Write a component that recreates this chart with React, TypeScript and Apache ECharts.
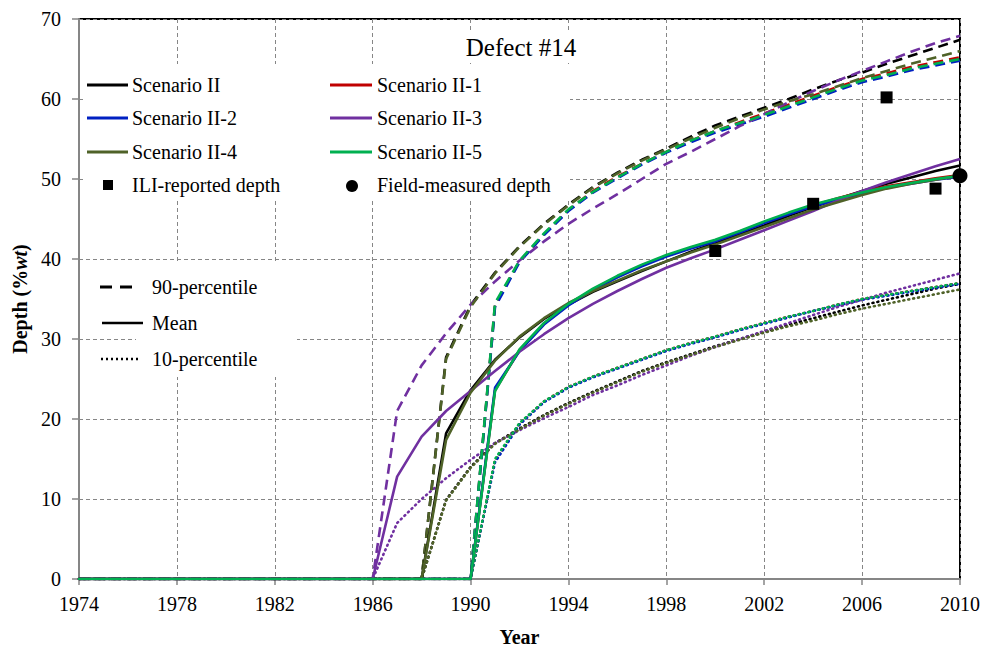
import React, { useEffect, useRef } from "react";
import * as echarts from "echarts";

// Axis ticks
const X_MIN = 1974;
const X_MAX = 2010;
const X_STEP = 4;
const Y_MIN = 0;
const Y_MAX = 70;
const Y_STEP = 10;

// Start year of defect growth for each scenario (depth stays 0 before it)
const ONSET_II = 1988;
const ONSET_II1 = 1990;
const ONSET_II2 = 1990;
const ONSET_II3 = 1986;
const ONSET_II4 = 1988;
const ONSET_II5 = 1990;

// Yearly depth (%wt) from the onset year up to 2010
const II_P90 = [0, 27.7, 34.2, 38.3, 41.6, 44.4, 46.8, 49.0, 50.8, 52.4, 53.8, 55.3, 56.7, 57.8, 58.9, 60.0, 61.2, 62.3, 63.3, 64.4, 65.4, 66.4, 67.4];
const II_MEAN = [0, 18.2, 23.6, 27.4, 30.2, 32.5, 34.3, 35.9, 37.2, 38.5, 39.7, 40.9, 42.0, 43.1, 44.2, 45.4, 46.5, 47.5, 48.5, 49.4, 50.2, 51.0, 51.7];
const II_P10 = [0, 9.9, 14.0, 17.0, 18.8, 20.5, 22.0, 23.4, 24.7, 26.0, 27.1, 28.1, 29.1, 30.0, 30.9, 31.8, 32.6, 33.4, 34.2, 34.9, 35.6, 36.3, 36.9];

const II1_P90 = [0, 34.3, 39.7, 43.1, 46.1, 48.5, 50.3, 51.9, 53.4, 54.8, 56.0, 57.1, 58.2, 59.3, 60.4, 61.5, 62.5, 63.2, 64.0, 64.6, 65.2];
const II1_MEAN = [0, 23.6, 28.6, 31.9, 34.3, 36.2, 37.8, 39.2, 40.4, 41.4, 42.3, 43.4, 44.6, 45.7, 46.7, 47.6, 48.4, 49.1, 49.6, 50.1, 50.5];
const II1_P10 = [0, 14.8, 19.4, 22.2, 24.0, 25.3, 26.4, 27.5, 28.6, 29.5, 30.3, 31.2, 32.0, 32.8, 33.5, 34.3, 35.0, 35.5, 36.0, 36.5, 37.0];

const II2_P90 = [0, 34.0, 39.6, 43.0, 46.0, 48.3, 50.1, 51.8, 53.3, 54.6, 55.8, 56.8, 57.8, 58.9, 60.0, 61.1, 62.1, 62.8, 63.6, 64.2, 64.8];
const II2_MEAN = [0, 23.9, 28.5, 31.8, 34.2, 36.1, 37.7, 39.1, 40.3, 41.3, 42.2, 43.3, 44.5, 45.6, 46.6, 47.4, 48.2, 48.9, 49.4, 49.9, 50.3];
const II2_P10 = [0, 14.6, 19.3, 22.1, 23.9, 25.2, 26.3, 27.4, 28.5, 29.4, 30.2, 31.1, 31.9, 32.7, 33.5, 34.2, 34.9, 35.4, 35.9, 36.4, 36.9];

const II3_P90 = [0, 21.0, 26.7, 30.7, 34.3, 37.2, 39.8, 42.2, 44.4, 46.3, 48.1, 50.0, 51.9, 53.4, 55.0, 56.6, 58.1, 59.6, 61.0, 62.3, 63.5, 64.7, 65.9, 67.0, 67.9];
const II3_MEAN = [0, 12.8, 17.8, 21.0, 23.5, 26.0, 28.4, 30.6, 32.6, 34.4, 36.0, 37.5, 38.9, 40.1, 41.2, 42.4, 43.6, 44.8, 46.0, 47.3, 48.5, 49.6, 50.6, 51.6, 52.5];
const II3_P10 = [0, 7.0, 10.0, 12.6, 14.9, 17.0, 18.6, 20.1, 21.5, 23.0, 24.2, 25.5, 26.7, 27.9, 29.0, 30.0, 31.0, 32.0, 33.0, 34.0, 34.9, 35.8, 36.6, 37.4, 38.2];

const II4_P90 = [0, 27.5, 34.0, 38.2, 41.5, 44.3, 46.7, 48.9, 50.7, 52.3, 53.7, 55.1, 56.4, 57.6, 58.7, 59.7, 60.6, 61.6, 62.6, 63.5, 64.4, 65.2, 66.0];
const II4_MEAN = [0, 17.4, 23.3, 27.3, 30.3, 32.6, 34.5, 36.0, 37.3, 38.6, 39.7, 40.8, 41.8, 42.9, 44.0, 45.1, 46.2, 47.1, 48.0, 48.8, 49.4, 49.9, 50.4];
const II4_P10 = [0, 9.8, 13.9, 16.9, 18.7, 20.4, 21.9, 23.3, 24.6, 25.9, 27.0, 28.0, 29.0, 29.9, 30.8, 31.6, 32.3, 33.1, 33.8, 34.4, 35.0, 35.6, 36.2];

const II5_P90 = [0, 34.5, 39.8, 43.2, 46.2, 48.4, 50.2, 51.9, 53.4, 54.8, 56.0, 57.0, 58.0, 59.1, 60.2, 61.3, 62.3, 63.0, 63.8, 64.4, 65.0];
const II5_MEAN = [0, 23.5, 28.7, 32.0, 34.4, 36.3, 37.9, 39.3, 40.5, 41.5, 42.4, 43.5, 44.7, 45.8, 46.8, 47.6, 48.3, 49.0, 49.5, 50.0, 50.4];
const II5_P10 = [0, 15.0, 19.5, 22.2, 24.0, 25.3, 26.4, 27.5, 28.6, 29.5, 30.3, 31.2, 32.0, 32.8, 33.5, 34.3, 35.0, 35.5, 36.0, 36.5, 37.0];

// Inspection results
const ILI_YEARS = [2000, 2004, 2007, 2009];
const ILI_DEPTHS = [41.0, 46.9, 60.2, 48.8];
const FIELD_YEARS = [2010];
const FIELD_DEPTHS = [50.4];

const SCENARIOS = [
  { name: "Scenario II", color: "#000000", onset: ONSET_II, p90: II_P90, mean: II_MEAN, p10: II_P10 },
  { name: "Scenario II-1", color: "#C00000", onset: ONSET_II1, p90: II1_P90, mean: II1_MEAN, p10: II1_P10 },
  { name: "Scenario II-2", color: "#0020C2", onset: ONSET_II2, p90: II2_P90, mean: II2_MEAN, p10: II2_P10 },
  { name: "Scenario II-3", color: "#7030A0", onset: ONSET_II3, p90: II3_P90, mean: II3_MEAN, p10: II3_P10 },
  { name: "Scenario II-4", color: "#4F6228", onset: ONSET_II4, p90: II4_P90, mean: II4_MEAN, p10: II4_P10 },
  { name: "Scenario II-5", color: "#00B050", onset: ONSET_II5, p90: II5_P90, mean: II5_MEAN, p10: II5_P10 },
];

const FONT = '"Liberation Serif", "Times New Roman", serif';
const GRAY = "#868686";
const DASH = [10, 6];
const DOT = [1, 4];

function toPoints(onset: number, values: number[]) {
  const pts: number[][] = [[X_MIN, 0]];
  values.forEach((v, i) => pts.push([onset + i, v]));
  return pts;
}

function buildSeries() {
  const out: any[] = [];
  const kinds = [
    { key: "p10", type: DOT, cap: "round", width: 2.6 },
    { key: "p90", type: DASH, cap: "butt", width: 2.6 },
    { key: "mean", type: "solid", cap: "butt", width: 2.6 },
  ];
  kinds.forEach((k, ki) => {
    SCENARIOS.forEach((s: any) => {
      out.push({
        name: `${s.name} ${k.key}`,
        type: "line",
        data: toPoints(s.onset, s[k.key]),
        showSymbol: false,
        symbol: "none",
        z: 2 + ki,
        lineStyle: { color: s.color, width: k.width, type: k.type, cap: k.cap },
        emphasis: { disabled: true },
      });
    });
  });
  out.push({
    name: "ILI-reported depth",
    type: "scatter",
    data: ILI_YEARS.map((y, i) => [y, ILI_DEPTHS[i]]),
    symbol: "rect",
    symbolSize: 12,
    itemStyle: { color: "#000", opacity: 1 },
    z: 10,
  });
  out.push({
    name: "Field-measured depth",
    type: "scatter",
    data: FIELD_YEARS.map((y, i) => [y, FIELD_DEPTHS[i]]),
    symbol: "circle",
    symbolSize: 15,
    itemStyle: { color: "#000", opacity: 1 },
    z: 10,
  });
  return out;
}

function legendGraphics() {
  const els: any[] = [];
  const textStyle = (text: string, x: number, y: number) => ({
    type: "text",
    x,
    y,
    z: 101,
    style: { text, fill: "#000", font: `20px ${FONT}`, verticalAlign: "middle", align: "left" },
  });
  // white panels that hide the grid behind the legends and heading
  els.push({ type: "rect", z: 100, shape: { x: 455, y: 30, width: 135, height: 33 }, style: { fill: "#fff" } });
  els.push({ type: "rect", z: 100, shape: { x: 85, y: 64, width: 485, height: 136 }, style: { fill: "#fff" } });
  els.push({ type: "rect", z: 100, shape: { x: 136, y: 263, width: 161, height: 114 }, style: { fill: "#fff" } });
  els.push({
    type: "text",
    x: 521,
    y: 47,
    z: 101,
    style: { text: "Defect #14", fill: "#000", font: `25px ${FONT}`, verticalAlign: "middle", align: "center" },
  });

  const rowsY = [85, 118, 152, 185];
  const colLine = [[87, 128], [330, 372]];
  const colText = [132, 377];
  SCENARIOS.forEach((s, i) => {
    const row = Math.floor(i / 2);
    const col = i % 2;
    els.push({
      type: "line",
      z: 101,
      shape: { x1: colLine[col][0], y1: rowsY[row], x2: colLine[col][1], y2: rowsY[row] },
      style: { stroke: s.color, lineWidth: 3 },
    });
    els.push(textStyle(s.name, colText[col], rowsY[row]));
  });
  els.push({ type: "rect", z: 101, shape: { x: 103, y: 180, width: 10, height: 10 }, style: { fill: "#000" } });
  els.push(textStyle("ILI-reported depth", colText[0], rowsY[3]));
  els.push({ type: "circle", z: 101, shape: { cx: 352, cy: 186, r: 6 }, style: { fill: "#000" } });
  els.push(textStyle("Field-measured depth", colText[1], rowsY[3]));

  // line-style key
  els.push({
    type: "line",
    z: 101,
    shape: { x1: 100, y1: 287, x2: 134, y2: 287 },
    style: { stroke: "#000", lineWidth: 3, lineDash: [12, 8] },
  });
  els.push(textStyle("90-percentile", 152, 287));
  els.push({
    type: "line",
    z: 101,
    shape: { x1: 102, y1: 323, x2: 143, y2: 323 },
    style: { stroke: "#000", lineWidth: 2.6 },
  });
  els.push(textStyle("Mean", 152, 323));
  els.push({
    type: "line",
    z: 101,
    shape: { x1: 101, y1: 359, x2: 141, y2: 359 },
    style: { stroke: "#000", lineWidth: 2.6, lineDash: [2, 3] },
  });
  els.push(textStyle("10-percentile", 152, 359));
  return els;
}

export default function App() {
  const ref = useRef<HTMLDivElement>(null);

  useEffect(() => {
    if (!ref.current) return;
    const chart = echarts.init(ref.current, undefined, { renderer: "svg" });
    chart.setOption({
      animation: false,
      backgroundColor: "#fff",
      textStyle: { fontFamily: FONT },
      grid: {
        left: 79,
        right: 26,
        top: 19,
        bottom: 68,
        outerBoundsMode: "none",
        containLabel: false,
        show: true,
        borderColor: "#000",
        borderWidth: 2,
        backgroundColor: "transparent",
      },
      xAxis: {
        type: "value",
        min: X_MIN,
        max: X_MAX,
        interval: X_STEP,
        name: "Year",
        nameLocation: "middle",
        nameGap: 48,
        nameTextStyle: { fontFamily: FONT, fontSize: 20, fontWeight: "bold", color: "#000" },
        axisLine: { show: true, lineStyle: { color: GRAY, width: 2 } },
        axisTick: { show: true, length: 6, lineStyle: { color: GRAY, width: 1.5 } },
        axisLabel: {
          fontFamily: FONT,
          fontSize: 20,
          color: "#000",
          margin: 15,
          formatter: (v: number) => String(v),
        },
        splitLine: { show: true, lineStyle: { color: GRAY, width: 1, type: [4, 3] } },
      },
      yAxis: {
        type: "value",
        min: Y_MIN,
        max: Y_MAX,
        interval: Y_STEP,
        name: "{b|Depth (%}{i|wt}{b|)}",
        nameLocation: "middle",
        nameRotate: 90,
        nameGap: 46,
        nameTextStyle: {
          rich: {
            b: { fontFamily: FONT, fontSize: 20, fontWeight: "bold", color: "#000" },
            i: { fontFamily: FONT, fontSize: 20, fontWeight: "bold", fontStyle: "italic", color: "#000" },
          },
        },
        axisLine: { show: true, lineStyle: { color: GRAY, width: 2 } },
        axisTick: { show: true, length: 7, lineStyle: { color: GRAY, width: 1.5 } },
        axisLabel: { fontFamily: FONT, fontSize: 20, color: "#000", margin: 18 },
        splitLine: { show: true, lineStyle: { color: GRAY, width: 1, type: [4, 3] } },
      },
      series: buildSeries(),
      graphic: legendGraphics(),
    });
    return () => chart.dispose();
  }, []);

  return (
    <div
      ref={ref}
      style={{ position: "fixed", left: 0, top: 0, width: 986, height: 647, background: "#fff" }}
    />
  );
}
